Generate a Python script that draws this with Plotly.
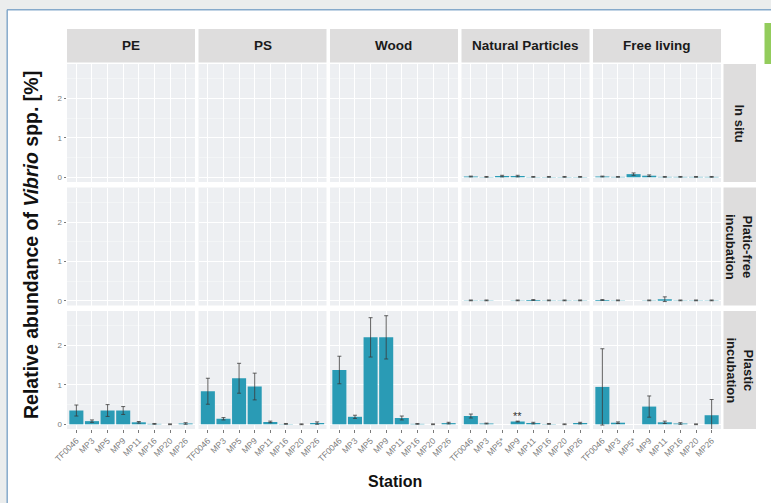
import plotly.graph_objects as go

W, H = 771, 503

stations = ["TF0046", "MP3", "MP5", "MP9", "MP11", "MP16", "MP20", "MP26"]
labels_std = ["TF0046", "MP3", "MP5", "MP9", "MP11", "MP16", "MP20", "MP26"]
labels_star = ["TF0046", "MP3", "MP5*", "MP9", "MP11", "MP16", "MP20", "MP26"]
materials = ["PE", "PS", "Wood", "Natural Particles", "Free living"]
treatments = ["In situ", "Platic-free<br>incubation", "Plastic<br>incubation"]

# In situ
insitu_np = [0.02, 0.01, 0.03, 0.03, 0.01, 0.01, 0.01, 0.01]
insitu_np_err = [0.01, 0.01, 0.02, 0.02, 0.01, 0.01, 0.01, 0.01]
insitu_fl = [0.02, 0.01, 0.08, 0.04, 0.01, 0.01, 0.01, 0.01]
insitu_fl_err = [0.01, 0.01, 0.03, 0.02, 0.01, 0.01, 0.01, 0.01]
# Plastic-free incubation
pfree_np = [0.01, 0.01, None, 0.01, 0.02, 0.01, 0.01, 0.01]
pfree_np_err = [0.01, 0.01, None, 0.01, 0.01, 0.01, 0.01, 0.01]
pfree_fl = [0.02, 0.01, None, 0.01, 0.04, 0.01, 0.01, 0.01]
pfree_fl_err = [0.01, 0.01, None, 0.01, 0.06, 0.01, 0.01, 0.01]
# Plastic incubation
plastic_pe = [0.35, 0.08, 0.35, 0.35, 0.05, 0.01, 0.0, 0.02]
plastic_pe_err = [0.14, 0.03, 0.15, 0.10, 0.02, 0.01, 0.01, 0.02]
plastic_ps = [0.84, 0.14, 1.17, 0.96, 0.06, 0.01, 0.0, 0.03]
plastic_ps_err = [0.33, 0.03, 0.38, 0.34, 0.02, 0.01, 0.01, 0.03]
plastic_wood = [1.38, 0.19, 2.21, 2.21, 0.16, 0.01, 0.0, 0.03]
plastic_wood_err = [0.35, 0.04, 0.50, 0.55, 0.05, 0.01, 0.01, 0.02]
plastic_np = [0.21, 0.02, None, 0.07, 0.03, 0.01, 0.0, 0.03]
plastic_np_err = [0.05, 0.01, None, 0.01, 0.02, 0.01, 0.01, 0.02]
plastic_fl = [0.95, 0.04, None, 0.45, 0.05, 0.02, 0.0, 0.23]
plastic_fl_err = [0.97, 0.02, None, 0.27, 0.03, 0.02, 0.01, 0.40]

data = {
    (0, 3): (insitu_np, insitu_np_err),
    (0, 4): (insitu_fl, insitu_fl_err),
    (1, 3): (pfree_np, pfree_np_err),
    (1, 4): (pfree_fl, pfree_fl_err),
    (2, 0): (plastic_pe, plastic_pe_err),
    (2, 1): (plastic_ps, plastic_ps_err),
    (2, 2): (plastic_wood, plastic_wood_err),
    (2, 3): (plastic_np, plastic_np_err),
    (2, 4): (plastic_fl, plastic_fl_err),
}

BAR = "#2a9bb5"
PANEL = "#edeff2"
STRIP = "#dedddd"
TICKC = "#7a7a7a"
FONT = "Liberation Sans, Arial, sans-serif"

col_x0 = [67, 198.5, 330, 461.5, 593]
col_w = 128
row_y0 = [64, 187.5, 311]
row_h = 118
yrange = [-0.12, 2.88]


def px(x):
    return x / W


def py(y):
    return 1 - y / H


fig = go.Figure()
layout = {}
for r in range(3):
    for c in range(5):
        k = r * 5 + c + 1
        xa = "x" if k == 1 else f"x{k}"
        ya = "y" if k == 1 else f"y{k}"
        xname = "xaxis" if k == 1 else f"xaxis{k}"
        yname = "yaxis" if k == 1 else f"yaxis{k}"
        bottom = r == 2
        left = c == 0
        layout[xname] = dict(
            domain=[px(col_x0[c]), px(col_x0[c] + col_w)],
            anchor=ya, type="category", automargin=False,
            categoryorder="array", categoryarray=stations,
            range=[-0.6, 7.6], showgrid=True, gridcolor="white", gridwidth=1,
            zeroline=False, showline=False, fixedrange=True,
            tickvals=stations,
            ticktext=labels_star if c >= 3 else labels_std,
            showticklabels=bottom, ticks="outside" if bottom else "",
            ticklen=2.5, tickcolor=TICKC, tickangle=-45,
            tickfont=dict(size=8.5, color=TICKC, family=FONT),
        )
        layout[yname] = dict(
            domain=[py(row_y0[r] + row_h), py(row_y0[r])],
            anchor=xa, range=yrange, tickvals=[0, 1, 2], automargin=False,
            showgrid=True, gridcolor="white", gridwidth=1,
            minor=dict(tickvals=[0.5, 1.5, 2.5], showgrid=True,
                       gridcolor="#f7f8f9", gridwidth=0.6),
            zeroline=False, showline=False, fixedrange=True,
            showticklabels=left, ticks="outside" if left else "",
            ticklen=2.5, tickcolor=TICKC,
            tickfont=dict(size=8, color=TICKC, family=FONT),
        )
        if (r, c) in data:
            vals, errs = data[(r, c)]
            fig.add_trace(go.Bar(
                x=stations, y=vals, xaxis=xa, yaxis=ya,
                marker=dict(color=BAR, line=dict(width=0)),
                width=0.9,
                error_y=dict(type="data", array=errs, visible=True,
                             color="#3a3a3a", thickness=0.8, width=2),
                showlegend=False, hoverinfo="skip",
            ))
        else:
            # empty panel: no measurements, keep the panel drawn
            fig.add_trace(go.Bar(
                x=stations, y=[None] * len(stations), xaxis=xa, yaxis=ya,
                marker=dict(color=BAR), showlegend=False, hoverinfo="skip",
            ))

shapes = []
annotations = []
# outer frame
shapes.append(dict(type="rect", xref="paper", yref="paper",
                   x0=0, x1=1, y0=py(9.5), y1=1, fillcolor="#ebeded",
                   line=dict(width=0), layer="below"))
shapes.append(dict(type="rect", xref="paper", yref="paper",
                   x0=0, x1=px(7), y0=0, y1=1, fillcolor="#ebeded",
                   line=dict(width=0), layer="below"))
shapes.append(dict(type="line", xref="paper", yref="paper",
                   x0=px(7), x1=1, y0=py(9.8), y1=py(9.8),
                   line=dict(color="#86aacb", width=1.5)))
shapes.append(dict(type="line", xref="paper", yref="paper",
                   x0=px(7.2), x1=px(7.2), y0=0, y1=py(9.8),
                   line=dict(color="#86aacb", width=1.5)))
shapes.append(dict(type="rect", xref="paper", yref="paper",
                   x0=px(764.5), x1=1, y0=py(64), y1=py(23),
                   fillcolor="#93cc5c", line=dict(width=0)))

# top strips
for c, m in enumerate(materials):
    shapes.append(dict(type="rect", xref="paper", yref="paper",
                       x0=px(col_x0[c]), x1=px(col_x0[c] + col_w),
                       y0=py(62.5), y1=py(29), fillcolor=STRIP,
                       line=dict(width=0)))
    annotations.append(dict(xref="paper", yref="paper",
                            x=px(col_x0[c] + col_w / 2), y=py(45.5),
                            text=f"<b>{m}</b>", showarrow=False,
                            font=dict(size=13.5, color="#1a1a1a", family=FONT),
                            xanchor="center", yanchor="middle"))
# right strips
for r, t in enumerate(treatments):
    shapes.append(dict(type="rect", xref="paper", yref="paper",
                       x0=px(723.5), x1=px(756),
                       y0=py(row_y0[r] + row_h), y1=py(row_y0[r]),
                       fillcolor=STRIP, line=dict(width=0)))
    annotations.append(dict(xref="paper", yref="paper",
                            x=px(739.5), y=py(row_y0[r] + row_h / 2),
                            text=f"<b>{t}</b>", showarrow=False, textangle=90,
                            font=dict(size=13, color="#1a1a1a", family=FONT),
                            xanchor="center", yanchor="middle"))

# significance mark
annotations.append(dict(xref="x14", yref="y14", x="MP9", y=0.2,
                        text="**", showarrow=False,
                        font=dict(size=11, color="#333333", family=FONT),
                        xanchor="center", yanchor="middle"))

# axis titles
annotations.append(dict(xref="paper", yref="paper", x=px(31), y=py(245),
                        text="<b>Relative abundance of <i>Vibrio</i> spp. [%]</b>",
                        showarrow=False, textangle=-90,
                        font=dict(size=19.5, color="#111111", family=FONT),
                        xanchor="center", yanchor="middle"))
annotations.append(dict(xref="paper", yref="paper", x=px(395), y=py(481),
                        text="<b>Station</b>", showarrow=False,
                        font=dict(size=16, color="#111111", family=FONT),
                        xanchor="center", yanchor="middle"))

fig.update_layout(
    width=W, height=H, margin=dict(l=0, r=0, t=0, b=0, pad=0, autoexpand=False),
    paper_bgcolor="white", plot_bgcolor=PANEL,
    bargap=0.1, showlegend=False,
    shapes=shapes, annotations=annotations,
    font=dict(family=FONT),
    **layout,
)

fig.write_html(
    "out.html",
    config={"displayModeBar": False, "staticPlot": True},
    post_script="document.body.style.margin='0';document.body.style.overflow='hidden';",
)
